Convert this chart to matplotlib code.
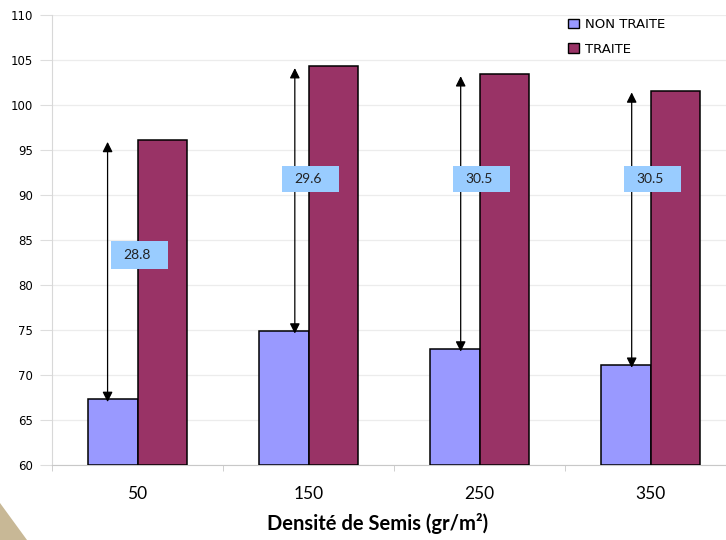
import matplotlib
matplotlib.use("Agg")
import matplotlib.pyplot as plt
from matplotlib.patches import Patch, Rectangle, Polygon
import numpy as np

# ---- data ----
categories = ["50", "150", "250", "350"]
non_traite = [67.3, 74.9, 72.9, 71.1]
traite = [96.1, 104.3, 103.4, 101.6]
gain_labels = ["28.8", "29.6", "30.5", "30.5"]
series_names = ["NON TRAITE", "TRAITE"]
y_ticks = [60, 65, 70, 75, 80, 85, 90, 95, 100, 105, 110]
x_label = "Densité de Semis (gr/m²)"

# ---- styling / layout ----
C_NON = "#9999FF"
C_TR = "#993366"
C_BOX = "#99CCFF"
W = 0.292
arrow_dx = [-0.175, -0.08, -0.11, -0.11]
box_y = [(81.8, 84.9), (90.3, 93.2), (90.3, 93.2), (90.3, 93.2)]

fig = plt.figure(figsize=(7.26, 5.40), dpi=100)
fig.patch.set_facecolor("white")
ax = fig.add_axes([52/726, 75/540, 684/726, 450/540])

x = np.arange(len(categories))
ax.bar(x - W/2, [v - 60 for v in non_traite], W, bottom=60, color=C_NON,
       edgecolor="black", linewidth=1.1, zorder=3)
ax.bar(x + W/2, [v - 60 for v in traite], W, bottom=60, color=C_TR,
       edgecolor="black", linewidth=1.1, zorder=3)

ax.set_xlim(-0.5, 3.5)
ax.set_ylim(60, 110)
ax.set_yticks(y_ticks)
ax.set_yticklabels([str(t) for t in y_ticks], fontsize=8.5, family="DejaVu Sans")
ax.yaxis.grid(True, color="#ececec", linewidth=0.9, zorder=0)
ax.set_axisbelow(True)

ax.set_xticks(x)
ax.set_xticklabels(categories, fontsize=12.5, family="Lato")
ax.set_xticks([-0.5, 0.5, 1.5, 2.5], minor=True)
ax.tick_params(axis="x", which="major", length=0, pad=15)
ax.tick_params(axis="x", which="minor", length=4, color="#c8c8c8")
ax.tick_params(axis="y", length=8.5, color="#dddddd", pad=5)
for s in ["top", "right"]:
    ax.spines[s].set_visible(False)
ax.spines["left"].set_color("#d8d8d8")
ax.spines["bottom"].set_color("#c8c8c8")

fig.text(378/726, 1 - 524/540, x_label, fontsize=14.5, family="Lato",
         fontweight="bold", ha="center", va="center")

# arrows and labels
for i in range(len(categories)):
    xa = i + arrow_dx[i]
    ax.annotate("", xy=(xa, traite[i] - 0.2), xytext=(xa, non_traite[i] - 0.3),
                arrowprops=dict(arrowstyle="<|-|>", color="black", lw=0.9,
                                mutation_scale=15, shrinkA=0, shrinkB=0),
                zorder=5)
    y0, y1 = box_y[i]
    ax.add_patch(Rectangle((i - 0.155, y0), 0.335, y1 - y0, facecolor=C_BOX,
                           edgecolor="none", zorder=6))
    ax.text(i - 0.085, (y0 + y1) / 2, gain_labels[i], fontsize=10, family="Lato",
            ha="left", va="center", color="#222222", zorder=7)

handles = [Patch(facecolor=C_NON, edgecolor="black", linewidth=1.0),
           Patch(facecolor=C_TR, edgecolor="black", linewidth=1.0)]
fig.legend(handles, series_names, loc="upper left",
           bbox_to_anchor=(568/726, 1 - 18/540), frameon=False,
           prop={"family": "DejaVu Sans", "size": 9.5},
           handlelength=0.85, handleheight=0.75, handletextpad=0.45,
           labelspacing=0.9, borderpad=0, borderaxespad=0)

# decorative corner
fig.patches.append(Polygon([(0, 0), (0, 37/540), (27/726, 0)], closed=True,
                           transform=fig.transFigure, facecolor="#C8B896",
                           edgecolor="none"))

fig.savefig("out.png", dpi=100)
